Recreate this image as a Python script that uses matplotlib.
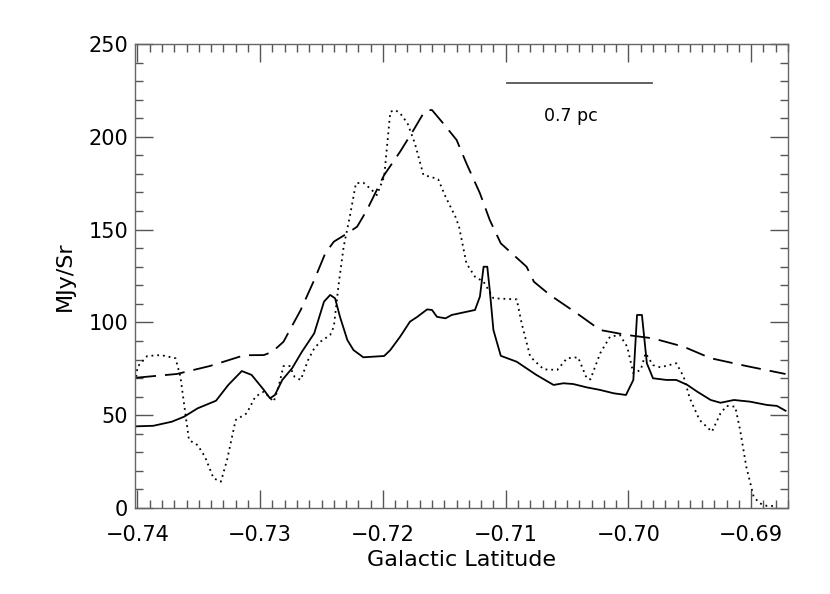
import matplotlib
matplotlib.use("Agg")
import matplotlib.pyplot as plt
from matplotlib.ticker import MultipleLocator, FixedLocator

# Solid profile
solid_x = [-0.7401, -0.7387, -0.7372, -0.7362, -0.7351, -0.7336, -0.7326, -0.7315, -0.7307,
           -0.7297, -0.7292, -0.7288, -0.7282, -0.7274, -0.7266, -0.7256, -0.7248, -0.7243,
           -0.7239, -0.7235, -0.7229, -0.7224, -0.7216, -0.7199, -0.7194, -0.7186, -0.7178,
           -0.7172, -0.7164, -0.7160, -0.7156, -0.7149, -0.7144, -0.7125, -0.7121, -0.7118,
           -0.7115, -0.7113, -0.7110, -0.7104, -0.7091, -0.7075, -0.7061, -0.7053, -0.7045,
           -0.7034, -0.7023, -0.7012, -0.7002, -0.6996, -0.6993, -0.6989, -0.6985, -0.6980,
           -0.6969, -0.6961, -0.6952, -0.6944, -0.6933, -0.6925, -0.6914, -0.6901, -0.6887,
           -0.6879, -0.6872]
solid_y = [44, 44.3, 46.5, 49.2, 53.7, 57.8, 66.3, 73.8, 71.7,
           63.6, 59.1, 60.9, 69, 75.3, 84.2, 94.1, 111.2, 114.8,
           113, 103, 90.5, 85.1, 81.2, 81.9, 85.1, 92.3, 100.4,
           103, 107, 106.7, 103, 102.2, 104, 106.7, 113.9, 130,
           130, 117.5, 95.9, 82, 78.8, 71.7, 66.3, 67.2, 66.8,
           65, 63.6, 61.8, 60.9, 69, 104, 104, 78, 69.9,
           69, 69, 66.3, 62.7, 58.2, 56.7, 58.2, 57.3, 55.5,
           55, 52.4]

# Dashed profile
dash_x = [-0.7401, -0.7368, -0.7341, -0.7313, -0.7297, -0.7290, -0.7281, -0.7267, -0.7256,
          -0.7247, -0.7240, -0.7229, -0.7221, -0.7213, -0.7199, -0.7186, -0.7175, -0.7167,
          -0.7164, -0.7160, -0.7151, -0.7140, -0.7132, -0.7121, -0.7113, -0.7104, -0.7083,
          -0.7077, -0.7064, -0.7042, -0.7023, -0.7001, -0.6980, -0.6955, -0.6933, -0.6904,
          -0.6872]
dash_y = [70.2, 72.2, 76.5, 82.3, 82.4, 84.2, 89.6, 106.7, 122.8,
          137.2, 143.5, 148, 151.6, 160.6, 179.4, 192, 203.7, 212.7,
          214.4, 214.4, 207.3, 198.3, 185.7, 169.6, 155.2, 142.6, 130,
          121.9, 114.8, 104.9, 95.9, 93.2, 91.4, 86.9, 80.7, 76.5,
          72.2]

# Dotted profile
dot_x = [-0.7401, -0.7400, -0.7392, -0.7381, -0.7369, -0.7365, -0.7361, -0.7358, -0.7351,
         -0.7345, -0.7338, -0.7332, -0.7327, -0.7320, -0.7311, -0.7304, -0.7297, -0.7289,
         -0.7285, -0.7281, -0.7276, -0.7272, -0.7267, -0.7261, -0.7256, -0.7251, -0.7243,
         -0.7240, -0.7236, -0.7232, -0.7227, -0.7222, -0.7216, -0.7209, -0.7205, -0.7199,
         -0.7194, -0.7190, -0.7186, -0.7180, -0.7174, -0.7167, -0.7160, -0.7155, -0.7149,
         -0.7141, -0.7138, -0.7132, -0.7125, -0.7118, -0.7110, -0.7091, -0.7087, -0.7080,
         -0.7069, -0.7058, -0.7050, -0.7041, -0.7034, -0.7031, -0.7023, -0.7015, -0.7007,
         -0.7001, -0.6996, -0.6990, -0.6986, -0.6980, -0.6974, -0.6961, -0.6955, -0.6950,
         -0.6942, -0.6932, -0.6925, -0.6920, -0.6913, -0.6909, -0.6904, -0.6898, -0.6893,
         -0.6887, -0.6880]
dot_y = [70.7, 76.1, 81.9, 82.4, 80.7, 70.7, 51, 36.6, 33.9,
         27.6, 16, 14.2, 25.9, 47.4, 51, 60, 62.7, 57.3,
         65.4, 76.5, 76.5, 70.7, 69, 79.7, 86, 89.6, 93.2,
         97.7, 121, 140.8, 157, 175, 175.3, 171.3, 168.6, 178.5,
         213.5, 214.4, 212.7, 207.3, 196.5, 179.4, 178.2, 177.1, 167.7,
         157, 151.6, 131.8, 124.6, 121.9, 113, 112.4, 99.5, 81.5,
         74.7, 74.4, 80.7, 81.2, 69.9, 69.3, 83.4, 92.3, 93.2,
         86.9, 72.6, 74.4, 83.4, 77, 75.8, 78, 70.7, 59.1,
         47.4, 41.1, 51, 55, 54.6, 42, 22.3, 6.1, 2.5,
         1.1, 1.1]

xticks = [-0.74, -0.73, -0.72, -0.71, -0.70, -0.69]
xticklabels = ["\u22120.74", "\u22120.73", "\u22120.72", "\u22120.71", "\u22120.70", "\u22120.69"]
yticks = [0, 50, 100, 150, 200, 250]

scale_bar_x = [-0.7099, -0.6981]
scale_bar_y = [229, 229]

plt.rcParams['font.family'] = ['DejaVu Sans']

fig = plt.figure(figsize=(8.30, 5.94), dpi=100)
ax = fig.add_axes([135/830, 1 - 508/594, (788-135)/830, (508-44)/594])

lw = 1.3
ax.plot(solid_x, solid_y, color='black', lw=lw, solid_joinstyle='round')
ax.plot(dash_x, dash_y, color='black', lw=lw, dashes=(11, 5))
ax.plot(dot_x, dot_y, color='black', lw=lw, dashes=(1, 2.2))

ax.plot(scale_bar_x, scale_bar_y, color='#555555', lw=1.3)
ax.text(-0.7069, 211, "0.7 pc", fontsize=12.5, ha='left', va='center')

ax.set_xlim(-0.7402, -0.6870)
ax.set_ylim(0, 250)

ax.xaxis.set_major_locator(FixedLocator(xticks))
ax.set_xticklabels(xticklabels)
ax.xaxis.set_minor_locator(MultipleLocator(0.001))
ax.yaxis.set_major_locator(FixedLocator(yticks))
ax.yaxis.set_minor_locator(MultipleLocator(10))

ax.tick_params(which='both', direction='in', top=True, right=True, color='#555555')
ax.tick_params(which='major', length=13, width=1, labelsize=15)
ax.tick_params(axis='x', which='major', pad=12)
ax.tick_params(axis='y', which='major', pad=5)
ax.tick_params(which='minor', length=6, width=1)
for s in ax.spines.values():
    s.set_color('#666666')
    s.set_linewidth(1)

ax.set_xlabel("Galactic Latitude", fontsize=16, labelpad=4)
ax.set_ylabel("MJy/Sr", fontsize=16, labelpad=10)

fig.savefig("out.png", dpi=100)
